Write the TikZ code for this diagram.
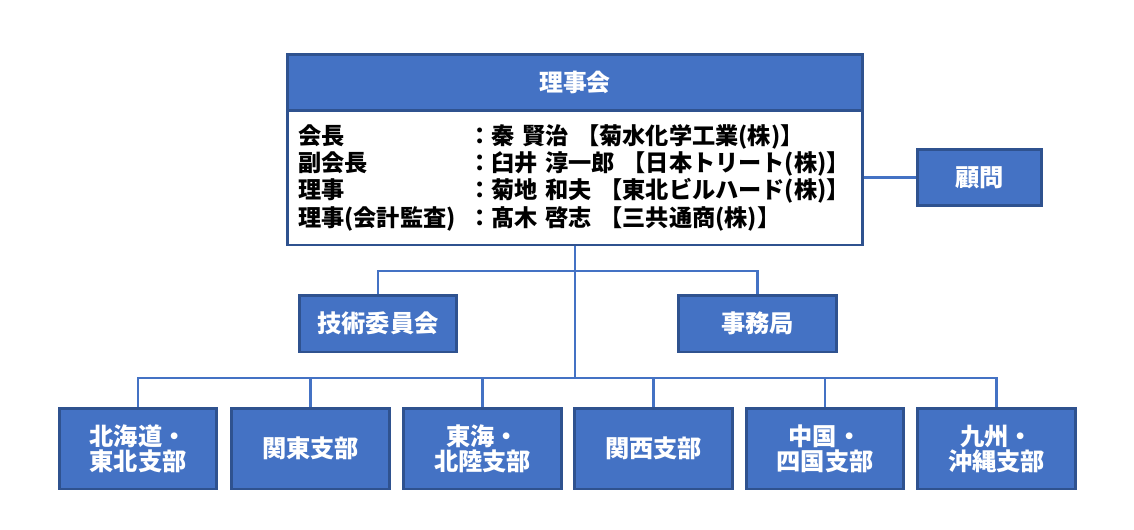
\documentclass[tikz,border=0pt]{standalone}
\usepackage{fontspec}
\setmainfont{Noto Sans CJK JP}
\usetikzlibrary{positioning}
\definecolor{boxblue}{HTML}{4472C4}
\definecolor{edgeblue}{HTML}{2F528F}

\begin{document}
\begin{tikzpicture}[x=0.02cm,y=-0.02cm,
  unit/.style={draw=edgeblue,line width=1.7pt,fill=boxblue,text=white,
    font=\fontsize{13.8}{14.2}\selectfont\bfseries,align=center,
    minimum width=3.16cm,minimum height=1.14cm,inner sep=0},
  branch/.style={unit,minimum height=1.62cm},
  link/.style={draw=boxblue,line width=1.5pt}]
  \useasboundingbox (0,0) rectangle (1134,529);

  \node (members) at (575,177.5) [draw=edgeblue,line width=1.7pt,fill=white,
    minimum width=11.52cm,minimum height=2.7cm,text width=11.08cm,inner xsep=0.22cm,
    align=left,font=\fontsize{13.2}{15.6}\selectfont\bfseries]{%
    \mbox{\makebox[3.4cm][l]{会長}：秦 賢治 【菊水化学工業(株)】}\\
    \mbox{\makebox[3.4cm][l]{副会長}：臼井 淳一郎 【日本トリート(株)】}\\
    \mbox{\makebox[3.4cm][l]{理事}：菊地 和夫 【東北ビルハード(株)】}\\
    \mbox{\makebox[3.4cm][l]{理事(会計監査)}：髙木 啓志 【三共通商(株)】}};
  \node (board) at (575,82) [unit,minimum width=11.52cm,minimum height=1.12cm,
    font=\fontsize{13.6}{15}\selectfont\bfseries]{理事会};

  \node (advisor) at (979.5,177.5) [unit,minimum width=2.5cm,minimum height=1.12cm]{顧問};

  \node (tech) at (378,323.5) [unit]{技術委員会};
  \node (office) at (757.5,323.5) [unit]{事務局};

  \node (hokkaido) at (138,448.5) [branch]{北海道・\\東北支部};
  \node (kanto) at (310.5,448.5) [branch]{関東支部};
  \node (tokai) at (482.5,448.5) [branch]{東海・\\北陸支部};
  \node (kansai) at (653.5,448.5) [branch]{関西支部};
  \node (chugoku) at (825,448.5) [branch]{中国・\\四国支部};
  \node (kyushu) at (996.5,448.5) [branch]{九州・\\沖縄支部};

  \coordinate (upper) at (575,271);
  \coordinate (lower) at (575,378);

  \draw[link] (members) -- (advisor);
  \draw[link] (members) -- (lower);

  \draw[link] (upper) -| (tech);
  \draw[link] (upper) -| (office);

  \draw[link] (lower) -| (hokkaido);
  \draw[link] (lower) -| (kanto);
  \draw[link] (lower) -| (tokai);
  \draw[link] (lower) -| (kansai);
  \draw[link] (lower) -| (chugoku);
  \draw[link] (lower) -| (kyushu);

\end{tikzpicture}
\end{document}
